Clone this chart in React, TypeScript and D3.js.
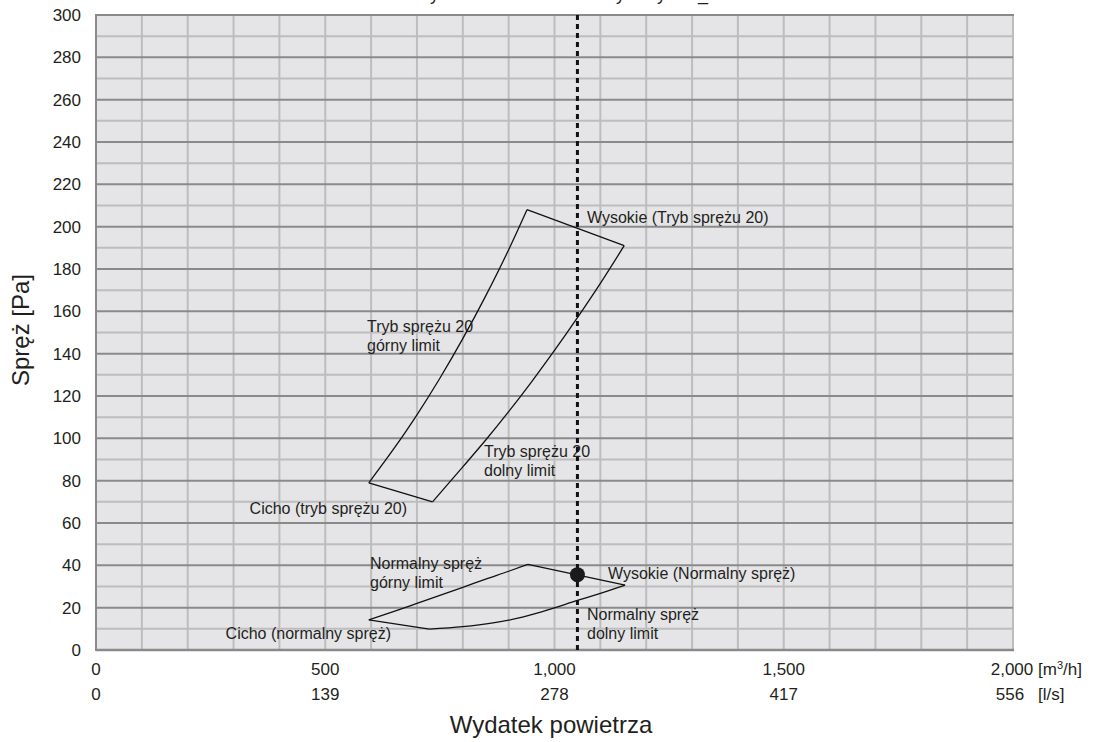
import React from "react";
import * as d3 from "d3";

// Air flow axis (m³/h) with matching l/s labels
const flowTicks = [0, 500, 1000, 1500, 2000];
const flowTicksLs = [0, 139, 278, 417, 556];
const pressureTicks = [0, 20, 40, 60, 80, 100, 120, 140, 160, 180, 200, 220, 240, 260, 280, 300];

// "Tryb sprężu 20" envelope: [flow m³/h, pressure Pa]
const esp20Upper: [number, number][] = [
  [595, 79], [650, 95.2], [700, 111.1], [750, 128.4], [800, 147.1], [850, 167.3], [900, 189.1], [940, 208],
];
const esp20Lower: [number, number][] = [
  [734, 70], [800, 86.5], [850, 99.2], [900, 112.6], [950, 126.7], [1000, 141.5], [1050, 157], [1100, 173.2], [1152, 191],
];

// "Normalny spręż" envelope
const normalUpper: [number, number][] = [
  [595, 14.2], [650, 18.2], [700, 22], [750, 25.8], [800, 29.6], [850, 33.5], [900, 37.2], [942, 40.5],
];
const normalLower: [number, number][] = [
  [727, 9.9], [800, 11], [866, 12.8], [930, 15.5], [975, 18.2], [1050, 23.4], [1100, 26.8], [1154, 30.7],
];

// Selected duty point and its flow line
const dutyFlow = 1050;
const dutyPressure = 35.6;

const W = 1094;
const H = 742;
const FONT = "'Liberation Sans', Arial, Helvetica, sans-serif";
const TEXT = "#231f20";

export default function App() {
  const x = d3.scaleLinear().domain([0, 2000]).range([96, 1013]);
  const y = d3.scaleLinear().domain([0, 300]).range([650, 15]);

  const curve = d3
    .line<[number, number]>()
    .x((d) => x(d[0]))
    .y((d) => y(d[1]))
    .curve(d3.curveMonotoneX);

  const seg = (a: [number, number], b: [number, number]) =>
    `M${x(a[0])},${y(a[1])}L${x(b[0])},${y(b[1])}`;

  const vLines = d3.range(100, 2001, 100);
  const hMinor = d3.range(10, 300, 20);
  const hMajor = d3.range(20, 300, 20);

  const light = "#bdbdbd";
  const dark = "#8a8a8a";

  const label = (tx: number, ty: number, lines: string[], anchor: "start" | "end" = "start") => (
    <text x={tx} y={ty} fontSize={16} fill={TEXT} textAnchor={anchor} fontFamily={FONT}>
      {lines.map((l, i) => (
        <tspan key={i} x={tx} dy={i === 0 ? 0 : 19}>
          {l}
        </tspan>
      ))}
    </text>
  );

  return (
    <svg
      width={W}
      height={H}
      viewBox={`0 0 ${W} ${H}`}
      style={{ position: "absolute", left: 0, top: 0, background: "#ffffff", overflow: "visible" }}
      fontFamily={FONT}
    >
      <text x={403} y={-0.5} fontSize={18} fill={TEXT}>
        Krzywe robocze modelu: tryb Wysoki_20
      </text>

      {/* plot area */}
      <rect x={x(0)} y={y(300)} width={x(2000) - x(0)} height={y(0) - y(300)} fill="#e5e5e7" />

      {vLines.map((v) => (
        <line key={"v" + v} x1={x(v)} x2={x(v)} y1={y(0)} y2={y(300)} stroke={light} strokeWidth={2} />
      ))}
      {hMinor.map((v) => (
        <line key={"hm" + v} x1={x(0)} x2={x(2000)} y1={y(v)} y2={y(v)} stroke={light} strokeWidth={2} />
      ))}
      {hMajor.map((v) => (
        <line key={"hM" + v} x1={x(0)} x2={x(2000)} y1={y(v)} y2={y(v)} stroke={dark} strokeWidth={2} />
      ))}
      <line x1={x(0)} x2={x(2000) + 1} y1={y(300)} y2={y(300)} stroke={dark} strokeWidth={2} />
      <line x1={x(0)} x2={x(2000) + 1} y1={y(0)} y2={y(0)} stroke={dark} strokeWidth={2.5} />
      <line x1={x(0)} x2={x(0)} y1={y(300) - 1} y2={y(0) + 1} stroke={dark} strokeWidth={2} />

      {/* pressure ticks */}
      {pressureTicks.map((v) => (
        <text key={"yt" + v} x={81} y={y(v)} dy="0.36em" fontSize={17} fill={TEXT} textAnchor="end">
          {v}
        </text>
      ))}

      {/* flow ticks */}
      {flowTicks.map((v, i) => (
        <g key={"xt" + v}>
          <text x={x(v) - (i === flowTicks.length - 1 ? 1 : 0)} y={675} fontSize={17} fill={TEXT} textAnchor="middle">
            {d3.format(",")(v)}
          </text>
          <text x={x(v) - (i === flowTicks.length - 1 ? 3 : 0)} y={700} fontSize={17} fill={TEXT} textAnchor="middle">
            {flowTicksLs[i]}
          </text>
        </g>
      ))}
      <text x={1038} y={675} fontSize={17} fill={TEXT}>
        [m<tspan fontSize={11} dy={-6}>3</tspan>
        <tspan dy={6}>/h]</tspan>
      </text>
      <text x={1038} y={700} fontSize={17} fill={TEXT}>
        [l/s]
      </text>

      {/* axis titles */}
      <text x={551} y={733} fontSize={24} fill={TEXT} textAnchor="middle">
        Wydatek powietrza
      </text>
      <text transform="translate(29,330) rotate(-90)" fontSize={24} fill={TEXT} textAnchor="middle">
        Spręż [Pa]
      </text>

      {/* envelopes */}
      <g fill="none" stroke="#111" strokeWidth={1.3}>
        <path d={curve(esp20Upper) || ""} />
        <path d={curve(esp20Lower) || ""} />
        <path d={seg(esp20Upper[0], esp20Lower[0])} />
        <path d={seg(esp20Upper[esp20Upper.length - 1], esp20Lower[esp20Lower.length - 1])} />
        <path d={curve(normalUpper) || ""} />
        <path d={curve(normalLower) || ""} />
        <path d={seg(normalUpper[0], normalLower[0])} />
        <path d={seg(normalUpper[normalUpper.length - 1], normalLower[normalLower.length - 1])} />
      </g>

      {/* duty flow line */}
      <line
        x1={x(dutyFlow)}
        x2={x(dutyFlow)}
        y1={y(300)}
        y2={y(0)}
        stroke="#111"
        strokeWidth={3}
        strokeDasharray="5,4"
      />
      <circle cx={x(dutyFlow)} cy={y(dutyPressure)} r={7.5} fill="#1a1a1a" />

      {/* annotations */}
      {label(587, 223, ["Wysokie (Tryb sprężu 20)"])}
      {label(367, 331.5, ["Tryb sprężu 20", "górny limit"])}
      {label(484, 457, ["Tryb sprężu 20", "dolny limit"])}
      {label(407, 513.5, ["Cicho (tryb sprężu 20)"], "end")}
      {label(370, 569, ["Normalny spręż", "górny limit"])}
      {label(608, 578.5, ["Wysokie (Normalny spręż)"])}
      {label(587, 620, ["Normalny spręż", "dolny limit"])}
      {label(391, 639, ["Cicho (normalny spręż)"], "end")}
    </svg>
  );
}
